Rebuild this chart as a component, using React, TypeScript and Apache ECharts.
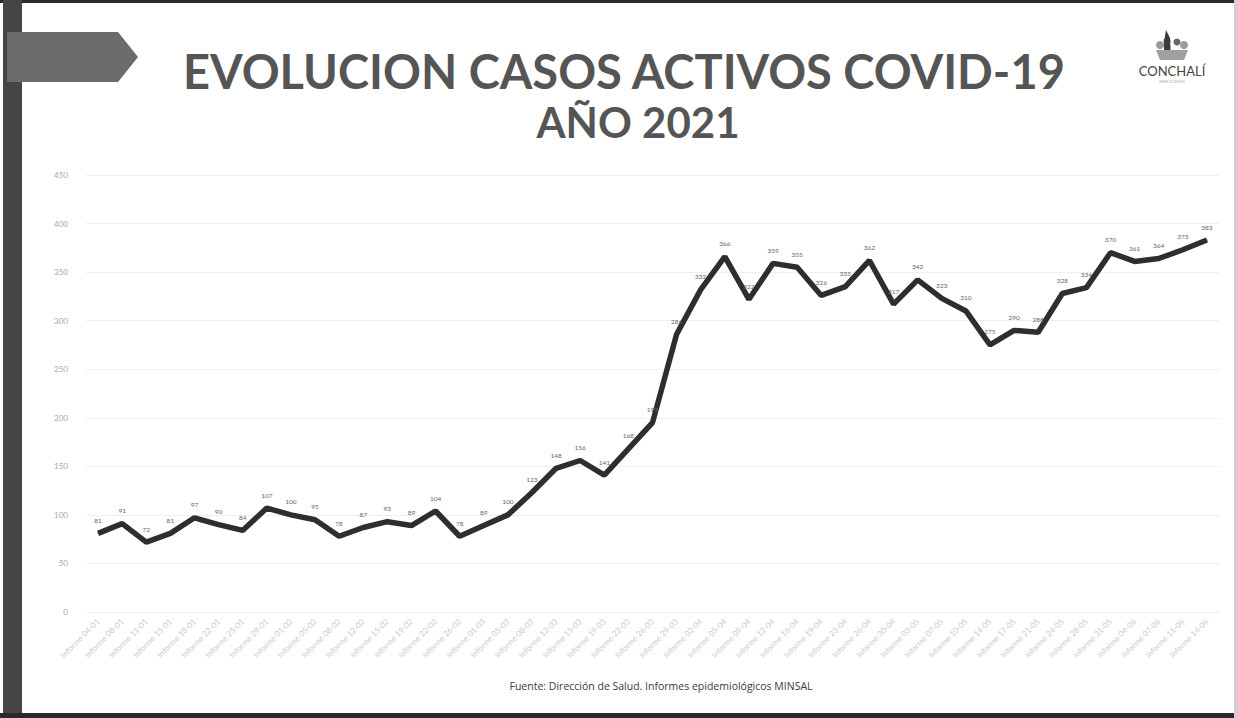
import React, { useEffect, useRef } from "react";
import * as echarts from "echarts";

const categories: string[] = [
  "Informe 04-01", "Informe 08-01", "Informe 11-01", "Informe 15-01", "Informe 18-01", "Informe 22-01",
  "Informe 25-01", "Informe 29-01", "Informe 01-02", "Informe 05-02", "Informe 08-02", "Informe 12-02",
  "Informe 15-02", "Informe 19-02", "Informe 22-02", "Informe 26-02", "Informe 01-03", "Informe 05-03",
  "Informe 08-03", "Informe 12-03", "Informe 15-03", "Informe 19-03", "Informe 22-03", "Informe 26-03",
  "Informe 29-03", "Informe 02-04", "Informe 05-04", "Informe 09-04", "Informe 12-04", "Informe 16-04",
  "Informe 19-04", "Informe 23-04", "Informe 26-04", "Informe 30-04", "Informe 03-05", "Informe 07-05",
  "Informe 10-05", "Informe 14-05", "Informe 17-05", "Informe 21-05", "Informe 24-05", "Informe 28-05",
  "Informe 31-05", "Informe 04-06", "Informe 07-06", "Informe 11-06", "Informe 14-06",
];

const activeCases: number[] = [
  81, 91, 72, 81, 97, 90, 84, 107, 100, 95, 78, 87, 93, 89, 104, 78, 89, 100, 123, 148, 156, 141, 168, 195,
  286, 332, 366, 322, 359, 355, 326, 335, 362, 317, 342, 323, 310, 275, 290, 288, 328, 334, 370, 361, 364,
  373, 383,
];

const yTicks: number[] = [0, 50, 100, 150, 200, 250, 300, 350, 400, 450];

const titleLine1 = "EVOLUCION CASOS ACTIVOS COVID-19";
const titleLine2 = "AÑO 2021";
const sourceText = "Fuente: Dirección de Salud. Informes epidemiológicos MINSAL";
const logoText = "CONCHALÍ";

export default function App() {
  const ref = useRef<HTMLDivElement>(null);
  useEffect(() => {
    if (!ref.current) return;
    const chart = echarts.init(ref.current, undefined, { renderer: "svg" });
    chart.setOption({
      animation: false,
      backgroundColor: "#ffffff",
      textStyle: { fontFamily: "Lato, 'Open Sans', sans-serif" },
      grid: { left: 86, right: 18, top: 175, bottom: 106, containLabel: false },
      xAxis: {
        type: "category",
        data: categories,
        boundaryGap: true,
        axisLine: { show: false },
        axisTick: { show: false },
        axisLabel: {
          rotate: 45,
          interval: 0,
          fontSize: 8,
          color: "#cacaca",
          margin: 8,
        },
      },
      yAxis: {
        type: "value",
        min: yTicks[0],
        max: yTicks[yTicks.length - 1],
        interval: 50,
        axisLine: { show: false },
        axisTick: { show: false },
        axisLabel: { fontSize: 8, color: "#a8a8a8", margin: 18 },
        splitLine: { lineStyle: { color: "#efefef", width: 1 } },
      },
      series: [
        {
          type: "line",
          data: activeCases,
          symbol: "circle",
          symbolSize: 1,
          itemStyle: { color: "#2e2e2e" },
          lineStyle: { color: "#2e2e2e", width: 5.5 },
          label: {
            show: true,
            position: "top",
            distance: 9,
            fontSize: 6.5,
            color: "#666666",
          },
        },
      ],
      graphic: [
        { type: "rect", shape: { x: 0, y: 0, width: 1237, height: 3 }, style: { fill: "#2a2a2a" } },
        { type: "rect", shape: { x: 3, y: 0, width: 19, height: 718 }, style: { fill: "#454545" } },
        { type: "rect", shape: { x: 0, y: 713, width: 1237, height: 5 }, style: { fill: "#2a2a2a" } },
        { type: "rect", shape: { x: 1234, y: 0, width: 3, height: 718 }, style: { fill: "#d0d0d0" } },
        {
          type: "polygon",
          shape: { points: [[7, 32], [118, 32], [138, 57], [118, 82], [7, 82]] },
          style: { fill: "#6b6b6b" },
        },
        {
          type: "text",
          x: 624,
          y: 47,
          style: {
            text: titleLine1,
            fontSize: 47,
            fontWeight: "bold",
            fill: "#555555",
            fontFamily: "Lato, 'Open Sans', sans-serif",
            textAlign: "center",
          },
        },
        {
          type: "text",
          x: 638,
          y: 101,
          style: {
            text: titleLine2,
            fontSize: 42,
            fontWeight: "bold",
            fill: "#555555",
            fontFamily: "Lato, 'Open Sans', sans-serif",
            textAlign: "center",
          },
        },
        {
          type: "text",
          x: 661,
          y: 680,
          style: {
            text: sourceText,
            fontSize: 10.5,
            fill: "#3a3a3a",
            fontFamily: "'Open Sans', sans-serif",
            textAlign: "center",
          },
        },
        {
          type: "group",
          x: 1172,
          y: 30,
          children: [
            { type: "circle", shape: { cx: -12, cy: 15, r: 4 }, style: { fill: "#9a9a9a" } },
            { type: "circle", shape: { cx: 12, cy: 15, r: 4 }, style: { fill: "#9a9a9a" } },
            { type: "circle", shape: { cx: -5, cy: 11, r: 3.5 }, style: { fill: "#555555" } },
            { type: "circle", shape: { cx: 5, cy: 12, r: 3.5 }, style: { fill: "#666666" } },
            {
              type: "polygon",
              shape: { points: [[-6, 0], [-2, 8], [-1, 30], [-8, 30], [-8, 12]] },
              style: { fill: "#3a3a3a" },
            },
            {
              type: "polygon",
              shape: { points: [[-16, 20], [16, 20], [12, 30], [-12, 30]] },
              style: { fill: "#a0a0a0" },
            },
            {
              type: "text",
              x: 0,
              y: 34,
              style: {
                text: logoText,
                fontSize: 13,
                fill: "#444444",
                fontFamily: "Lato, sans-serif",
                textAlign: "center",
              },
            },
            {
              type: "text",
              x: 0,
              y: 49,
              style: {
                text: "BIEN COMÚN",
                fontSize: 4,
                fill: "#aaaaaa",
                fontFamily: "Lato, sans-serif",
                textAlign: "center",
              },
            },
          ],
        },
      ],
    });
    return () => chart.dispose();
  }, []);
  return (
    <div
      ref={ref}
      style={{ position: "absolute", left: 0, top: 0, width: 1237, height: 718 }}
    />
  );
}
